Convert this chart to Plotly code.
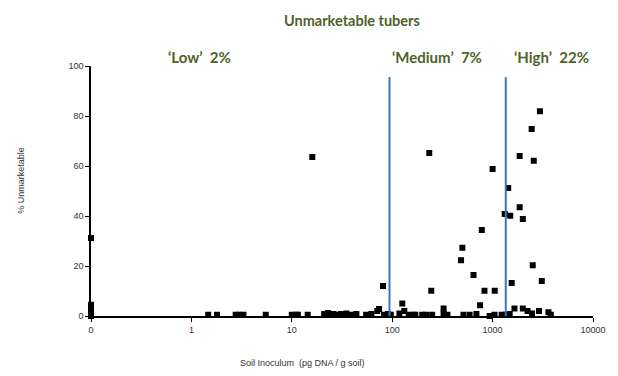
import plotly.graph_objects as go

# Soil inoculum (pg DNA / g soil); 0 plotted at 0.1 on the log axis
inoculum = [
    0.1, 0.1, 0.1, 0.1, 0.1, 0.1, 0.1,
    1.47, 1.8, 2.76, 3.0, 3.3, 5.5, 10, 11, 11.5, 14.4, 16,
    21, 23, 26, 28, 31, 35, 39, 44, 55, 62, 71, 74, 81, 83, 91, 97,
    118, 126, 132, 146, 163, 170, 199, 217, 234, 245, 250, 325, 325, 355,
    485, 500, 512, 590, 645, 690, 750, 780, 830, 935, 1000, 1045, 1050,
    1230, 1320, 1352, 1430, 1480, 1500, 1550, 1650, 1860, 1860, 2000, 2000,
    2230, 2450, 2470, 2510, 2570, 2900, 2960, 3090, 3600, 3800,
]
pct_unmarketable = [
    31.2, 4.5, 3.5, 2.5, 1.5, 0.8, 0,
    0.5, 0.5, 0.5, 0.5, 0.5, 0.5, 0.5, 0.5, 0.5, 0.5, 63.6,
    0.8, 1.2, 0.8, 0.5, 0.8, 1.0, 0.5, 0.8, 0.5, 0.8, 2.0, 2.8, 12.0, 0.5, 0.8, 0.5,
    1.0, 5.0, 2.0, 0.5, 0.5, 0.5, 0.5, 0.5, 65.2, 10.1, 0.5, 1.0, 3.0, 0.5,
    22.3, 27.3, 0.5, 0.5, 16.4, 0.8, 4.3, 34.4, 10.1, 0, 58.8, 0.5, 10.1,
    0.5, 40.8, 0.5, 51.2, 0.8, 40.1, 13.2, 3.0, 64.0, 43.5, 38.8, 3.0,
    2.0, 74.8, 1.0, 20.3, 62.1, 2.0, 81.9, 14.0, 1.5, 0.5,
]

# Risk-class thresholds (pg DNA / g soil) and labels
thresholds = [94, 1352]
class_labels = ["\u2018Low\u2019  2%", "\u2018Medium\u2019  7%", "\u2018High\u2019  22%"]
tick_vals = [0.1, 1, 10, 100, 1000, 10000]
tick_text = ["0", "1", "10", "100", "1000", "10000"]

fig = go.Figure()
fig.add_trace(go.Scatter(
    x=inoculum, y=pct_unmarketable, mode="markers",
    marker=dict(symbol="square", size=6, color="black"),
    cliponaxis=False, showlegend=False,
))

for t in thresholds:
    fig.add_shape(type="line", xref="x", yref="y", x0=t, x1=t, y0=0, y1=95.6,
                  line=dict(color="#3f72c2", width=2))

olive = "#4f6228"
label_x = [0.217, 0.690, 0.917]
for lx, txt in zip(label_x, class_labels):
    fig.add_annotation(text=f"<b>{txt}</b>", xref="paper", yref="paper",
                       x=lx, y=1.036, showarrow=False, xanchor="center", yanchor="middle",
                       font=dict(family="Lato", size=15, color=olive))
fig.add_annotation(text="<b>Unmarketable tubers</b>", xref="paper", yref="paper",
                   x=0.52, y=1.184, showarrow=False, xanchor="center", yanchor="middle",
                   font=dict(family="Lato", size=14.5, color=olive))

# axis titles
fig.add_annotation(text="Soil Inoculum  (pg DNA / g soil)", xref="paper", yref="paper",
                   x=0.422, y=-0.188, showarrow=False, xanchor="center", yanchor="middle",
                   font=dict(size=9, color="#333333"))
fig.add_annotation(text="% Unmarketable", xref="paper", yref="paper", textangle=-90,
                   x=-0.140, y=0.544, showarrow=False, xanchor="center", yanchor="middle",
                   font=dict(size=9, color="#333333"))

fig.update_layout(
    width=618, height=376,
    margin=dict(l=91, r=20, t=66, b=60),
    paper_bgcolor="white", plot_bgcolor="white",
    font=dict(family="Liberation Sans", size=9, color="#333333"),
)
fig.update_xaxes(
    type="log", range=[-1, 4], tickvals=tick_vals, ticktext=tick_text,
    showline=True, linecolor="black", linewidth=1.5, ticks="outside",
    ticklen=4, tickcolor="black", showgrid=False, zeroline=False,
)
fig.update_yaxes(
    range=[0, 100], tickvals=[0, 20, 40, 60, 80, 100],
    showline=True, linecolor="black", linewidth=1.5, ticks="outside",
    ticklen=4, tickcolor="black", showgrid=False, zeroline=False,
)

fig.write_html("out.html")
